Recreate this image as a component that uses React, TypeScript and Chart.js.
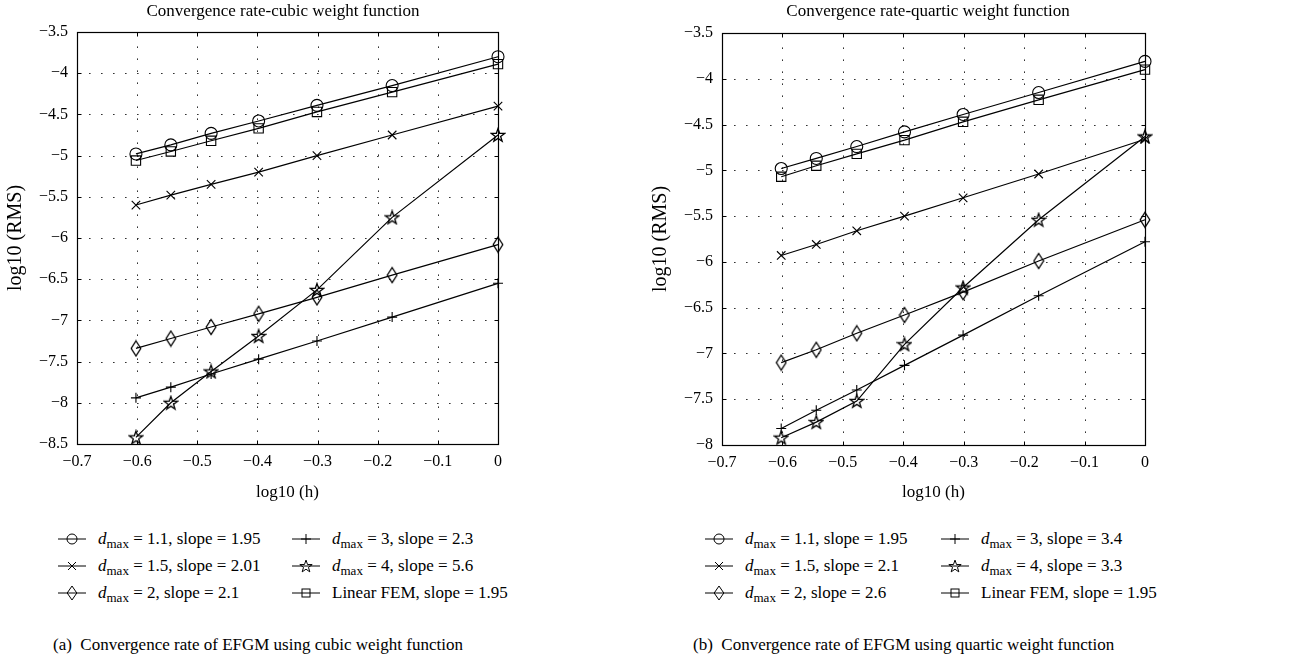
import React, { useEffect, useRef } from "react";
import { Chart, registerables } from "chart.js";

Chart.register(...registerables);

// ---------------- DATA ----------------
const logH = [-0.602, -0.544, -0.477, -0.398, -0.301, -0.176, 0];

const cubicD11 = [-4.98, -4.87, -4.73, -4.58, -4.39, -4.15, -3.8];
const cubicD15 = [-5.6, -5.48, -5.35, -5.2, -5.0, -4.75, -4.4];
const cubicD2 = [-7.34, -7.22, -7.08, -6.92, -6.72, -6.45, -6.08];
const cubicD3 = [-7.94, -7.81, -7.65, -7.47, -7.25, -6.96, -6.55];
const cubicD4 = [-8.42, -8.0, -7.62, -7.19, -6.63, -5.75, -4.75];
const cubicFem = [-5.06, -4.95, -4.82, -4.67, -4.47, -4.23, -3.89];

const quarticD11 = [-4.98, -4.87, -4.74, -4.58, -4.39, -4.15, -3.81];
const quarticD15 = [-5.93, -5.81, -5.66, -5.5, -5.3, -5.04, -4.66];
const quarticD2 = [-7.1, -6.96, -6.78, -6.58, -6.33, -5.99, -5.54];
const quarticD3 = [-7.82, -7.62, -7.4, -7.13, -6.8, -6.37, -5.78];
const quarticD4 = [-7.92, -7.75, -7.52, -6.9, -6.28, -5.54, -4.63];
const quarticFem = [-5.07, -4.95, -4.82, -4.67, -4.47, -4.23, -3.9];

const xTickValues = [-0.7, -0.6, -0.5, -0.4, -0.3, -0.2, -0.1, 0];
const cubicYTicks = [-3.5, -4, -4.5, -5, -5.5, -6, -6.5, -7, -7.5, -8, -8.5];
const quarticYTicks = [-3.5, -4, -4.5, -5, -5.5, -6, -6.5, -7, -7.5, -8];

const dmaxValues = ["1.1", "1.5", "2", "3", "4"];
const cubicSlopes = ["1.95", "2.01", "2.1", "2.3", "5.6", "1.95"];
const quarticSlopes = ["1.95", "2.1", "2.6", "3.4", "3.3", "1.95"];

const FONT = "'Liberation Serif', 'Times New Roman', serif";

type Marker = "circle" | "x" | "diamond" | "plus" | "star" | "square";
const markerOrder: Marker[] = ["circle", "x", "diamond", "plus", "star", "square"];

function fmt(v: number): string {
  const s = parseFloat(v.toFixed(2)).toString();
  return s.replace("-", "\u2212");
}

function makeStarCanvas(): HTMLCanvasElement {
  const c = document.createElement("canvas");
  c.width = 16;
  c.height = 16;
  const ctx = c.getContext("2d")!;
  ctx.beginPath();
  for (let i = 0; i < 10; i++) {
    const r = i % 2 === 0 ? 7 : 2.8;
    const a = -Math.PI / 2 + (i * Math.PI) / 5;
    const px = 8 + r * Math.cos(a);
    const py = 8.6 + r * Math.sin(a);
    if (i === 0) ctx.moveTo(px, py);
    else ctx.lineTo(px, py);
  }
  ctx.closePath();
  ctx.strokeStyle = "#000";
  ctx.lineWidth = 1.3;
  ctx.stroke();
  return c;
}

function makeDiamondCanvas(): HTMLCanvasElement {
  const c = document.createElement("canvas");
  c.width = 12;
  c.height = 18;
  const ctx = c.getContext("2d")!;
  ctx.beginPath();
  ctx.moveTo(6, 1.5);
  ctx.lineTo(10.8, 9);
  ctx.lineTo(6, 16.5);
  ctx.lineTo(1.2, 9);
  ctx.closePath();
  ctx.strokeStyle = "#000";
  ctx.lineWidth = 1.3;
  ctx.stroke();
  return c;
}

const framePlugin = {
  id: "matlabFrame",
  beforeDatasetsDraw(chart: any) {
    const { ctx, chartArea: a, scales } = chart;
    const xs = scales.x;
    const ys = scales.y;
    ctx.save();
    ctx.strokeStyle = "#333";
    ctx.lineWidth = 1;
    ctx.setLineDash([1.6, 10.4]);
    xs.ticks.forEach((t: any) => {
      const px = Math.round(xs.getPixelForValue(t.value)) + 0.5;
      if (px <= a.left + 1 || px >= a.right - 1) return;
      ctx.beginPath();
      ctx.moveTo(px, a.bottom);
      ctx.lineTo(px, a.top);
      ctx.stroke();
    });
    ys.ticks.forEach((t: any) => {
      const py = Math.round(ys.getPixelForValue(t.value)) + 0.5;
      if (py <= a.top + 1 || py >= a.bottom - 1) return;
      ctx.beginPath();
      ctx.moveTo(a.left, py);
      ctx.lineTo(a.right, py);
      ctx.stroke();
    });
    ctx.restore();
  },
  afterDatasetsDraw(chart: any) {
    const { ctx, chartArea: a, scales } = chart;
    const xs = scales.x;
    const ys = scales.y;
    ctx.save();
    ctx.strokeStyle = "#000";
    ctx.lineWidth = 1.2;
    ctx.setLineDash([]);
    const L = Math.round(a.left) + 0.5;
    const R = Math.round(a.right) + 0.5;
    const T = Math.round(a.top) + 0.5;
    const B = Math.round(a.bottom) + 0.5;
    ctx.strokeRect(L, T, R - L, B - T);
    const tl = 4;
    ctx.lineWidth = 1;
    xs.ticks.forEach((t: any) => {
      const px = Math.round(xs.getPixelForValue(t.value)) + 0.5;
      ctx.beginPath();
      ctx.moveTo(px, B);
      ctx.lineTo(px, B - tl);
      ctx.moveTo(px, T);
      ctx.lineTo(px, T + tl);
      ctx.stroke();
    });
    ys.ticks.forEach((t: any) => {
      const py = Math.round(ys.getPixelForValue(t.value)) + 0.5;
      ctx.beginPath();
      ctx.moveTo(L, py);
      ctx.lineTo(L + tl, py);
      ctx.moveTo(R, py);
      ctx.lineTo(R - tl, py);
      ctx.stroke();
    });
    ctx.restore();
  },
};

interface PanelProps {
  left: number;
  width: number;
  title: string;
  series: number[][];
  yTicks: number[];
  yMin: number;
  top: number;
  bottom: number;
  rightPad: number;
  slopes: string[];
  caption: string;
  legendCols: [number, number];
  captionLeft: number;
}

const CANVAS_H = 510;

function MarkerIcon({ m }: { m: Marker }) {
  const cx = 14;
  const cy = 9;
  let shape: React.ReactNode = null;
  const st = { fill: "none", stroke: "#000", strokeWidth: 1 };
  if (m === "circle") shape = <circle cx={cx} cy={cy} r={5} {...st} />;
  if (m === "square") shape = <rect x={cx - 4} y={cy - 4} width={8} height={8} {...st} />;
  if (m === "x")
    shape = (
      <path d={`M${cx - 4} ${cy - 4} L${cx + 4} ${cy + 4} M${cx - 4} ${cy + 4} L${cx + 4} ${cy - 4}`} {...st} />
    );
  if (m === "plus")
    shape = <path d={`M${cx - 5} ${cy} L${cx + 5} ${cy} M${cx} ${cy - 5} L${cx} ${cy + 5}`} {...st} />;
  if (m === "diamond")
    shape = <path d={`M${cx} ${cy - 7} L${cx + 4.8} ${cy} L${cx} ${cy + 7} L${cx - 4.8} ${cy} Z`} {...st} />;
  if (m === "star") {
    const pts: string[] = [];
    for (let i = 0; i < 10; i++) {
      const r = i % 2 === 0 ? 6.5 : 2.6;
      const a = -Math.PI / 2 + (i * Math.PI) / 5;
      pts.push(`${(cx + r * Math.cos(a)).toFixed(2)},${(cy + 0.6 + r * Math.sin(a)).toFixed(2)}`);
    }
    shape = <polygon points={pts.join(" ")} {...st} />;
  }
  return (
    <svg width={28} height={18} style={{ display: "block" }}>
      <line x1={0} y1={cy} x2={28} y2={cy} stroke="#000" strokeWidth={1} />
      {shape}
    </svg>
  );
}

function LegendLabel({ idx, slope }: { idx: number; slope: string }) {
  if (idx === 5) return <span>Linear FEM, slope = {slope}</span>;
  return (
    <span>
      <i>d</i>
      <span style={{ fontSize: 13, position: "relative", top: 4 }}>max</span> = {dmaxValues[idx]}, slope = {slope}
    </span>
  );
}

function Panel(p: PanelProps) {
  const ref = useRef<HTMLCanvasElement | null>(null);
  useEffect(() => {
    if (!ref.current) return;
    const star = makeStarCanvas();
    const diamond = makeDiamondCanvas();
    const styles: any[] = ["circle", "crossRot", diamond, "cross", star, "rect"];
    const radii = [6, 6, 6, 5, 6, 6.6];
    const datasets = p.series.map((vals, i) => ({
      data: logH.map((x, j) => ({ x, y: vals[j] })),
      borderColor: "#000",
      borderWidth: 1.2,
      pointStyle: styles[i],
      pointRadius: radii[i],
      pointBorderColor: "#000",
      pointBorderWidth: 1.1,
      pointBackgroundColor: "rgba(0,0,0,0)",
      fill: false,
      tension: 0,
      clip: false as any,
    }));
    const chart = new Chart(ref.current, {
      type: "line",
      data: { datasets },
      plugins: [framePlugin],
      options: {
        animation: false,
        responsive: false,
        devicePixelRatio: 1,
        events: [],
        layout: { padding: { left: 0, right: p.rightPad, top: p.top, bottom: 0 } },
        plugins: { legend: { display: false }, tooltip: { enabled: false }, title: { display: false } },
        scales: {
          x: {
            type: "linear",
            min: -0.7,
            max: 0,
            grid: { display: false, drawTicks: false },
            border: { display: false },
            afterBuildTicks: (s: any) => {
              s.ticks = xTickValues.map((v) => ({ value: v }));
            },
            afterFit: (s: any) => {
              s.height = CANVAS_H - p.bottom;
            },
            ticks: {
              color: "#000",
              font: { family: FONT, size: 16 },
              padding: 8,
              maxRotation: 0,
              autoSkip: false,
              callback: (v: any) => fmt(Number(v)),
            },
            title: {
              display: true,
              text: "log10 (h)",
              color: "#000",
              font: { family: FONT, size: 17 },
              padding: { top: 0, bottom: 7 },
            },
          },
          y: {
            type: "linear",
            min: p.yMin,
            max: -3.5,
            grid: { display: false, drawTicks: false },
            border: { display: false },
            afterBuildTicks: (s: any) => {
              s.ticks = p.yTicks.map((v) => ({ value: v }));
            },
            afterFit: (s: any) => {
              s.width = 77;
            },
            ticks: {
              color: "#000",
              font: { family: FONT, size: 16 },
              padding: 9,
              autoSkip: false,
              callback: (v: any) => fmt(Number(v)),
            },
            title: {
              display: true,
              text: "log10 (RMS)",
              color: "#000",
              font: { family: FONT, size: 20 },
              padding: { top: 4, bottom: 0 },
            },
          },
        },
      } as any,
    });
    return () => chart.destroy();
  }, []);

  const rows = [539, 566, 593];
  return (
    <div style={{ position: "absolute", left: p.left, top: 0, width: p.width, height: 661 }}>
      <canvas ref={ref} width={p.width} height={CANVAS_H} style={{ position: "absolute", left: 0, top: 0, width: p.width, height: CANVAS_H }} />
      <div
        style={{
          position: "absolute",
          left: 283 - 250,
          width: 500,
          top: 0,
          lineHeight: "22px",
          fontSize: 17,
          textAlign: "center",
          whiteSpace: "nowrap",
        }}
      >
        {p.title}
      </div>
      {markerOrder.map((m, i) => {
        const col = i < 3 ? 0 : 1;
        const row = i % 3;
        const x0 = p.legendCols[col];
        return (
          <div
            key={m}
            style={{
              position: "absolute",
              left: x0,
              top: rows[row] - 11,
              height: 22,
              display: "flex",
              alignItems: "center",
              fontSize: 17,
              lineHeight: "22px",
              whiteSpace: "nowrap",
            }}
          >
            <MarkerIcon m={m} />
            <span style={{ marginLeft: 12 }}>
              <LegendLabel idx={i} slope={p.slopes[i]} />
            </span>
          </div>
        );
      })}
      <div
        style={{
          position: "absolute",
          left: p.captionLeft,
          top: 634,
          lineHeight: "22px",
          fontSize: 17,
          whiteSpace: "pre",
        }}
      >
        {p.caption}
      </div>
    </div>
  );
}

export default function App() {
  return (
    <div
      style={{
        position: "absolute",
        left: 0,
        top: 0,
        width: 1291,
        height: 661,
        background: "#fff",
        fontFamily: FONT,
        color: "#000",
        overflow: "hidden",
      }}
    >
      <Panel
        left={0}
        width={645}
        title="Convergence rate-cubic weight function"
        series={[cubicD11, cubicD15, cubicD2, cubicD3, cubicD4, cubicFem]}
        yTicks={cubicYTicks}
        yMin={-8.5}
        top={32}
        bottom={444}
        rightPad={147}
        slopes={cubicSlopes}
        caption={"(a)  Convergence rate of EFGM using cubic weight function"}
        legendCols={[58, 292]}
        captionLeft={53}
      />
      <Panel
        left={645}
        width={646}
        title="Convergence rate-quartic weight function"
        series={[quarticD11, quarticD15, quarticD2, quarticD3, quarticD4, quarticFem]}
        yTicks={quarticYTicks}
        yMin={-8}
        top={33}
        bottom={445}
        rightPad={146}
        slopes={quarticSlopes}
        caption={"(b)  Convergence rate of EFGM using quartic weight function"}
        legendCols={[60, 296]}
        captionLeft={48}
      />
    </div>
  );
}
